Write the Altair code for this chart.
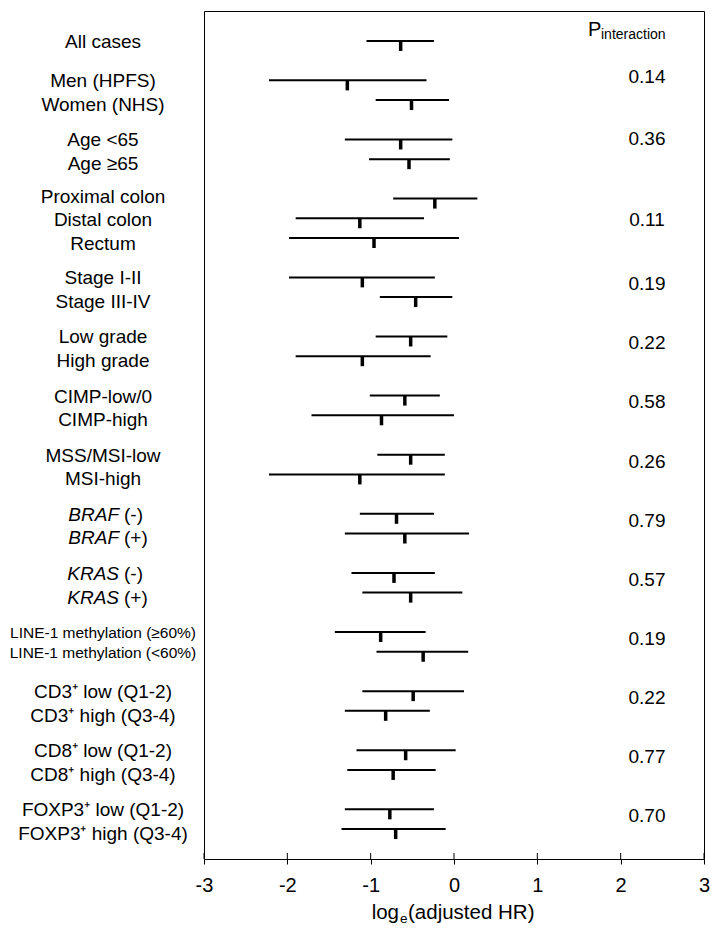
import altair as alt
import pandas as pd

FONT = "Liberation Sans"

# ---- data ----
group_sizes = [1, 2, 2, 3, 2, 2, 2, 2, 2, 2, 2, 2, 2, 2]
labels = [
    "All cases",
    "Men (HPFS)", "Women (NHS)",
    "Age <65", "Age \u226565",
    "Proximal colon", "Distal colon", "Rectum",
    "Stage I-II", "Stage III-IV",
    "Low grade", "High grade",
    "CIMP-low/0", "CIMP-high",
    "MSS/MSI-low", "MSI-high",
    "BRAF (-)", "BRAF (+)",
    "KRAS (-)", "KRAS (+)",
    "LINE-1 methylation (\u226560%)", "LINE-1 methylation (<60%)",
    "CD3\u207a low (Q1-2)", "CD3\u207a high (Q3-4)",
    "CD8\u207a low (Q1-2)", "CD8\u207a high (Q3-4)",
    "FOXP3\u207a low (Q1-2)", "FOXP3\u207a high (Q3-4)",
]
italic_genes = ["BRAF", "KRAS"]
estimate = [-0.64, -1.28, -0.51, -0.64, -0.54, -0.23, -1.13, -0.96, -1.10, -0.46,
            -0.52, -1.10, -0.59, -0.87, -0.52, -1.13, -0.69, -0.59, -0.72, -0.52,
            -0.88, -0.37, -0.49, -0.82, -0.58, -0.73, -0.77, -0.70]
lower = [-1.05, -2.22, -0.94, -1.31, -1.02, -0.73, -1.90, -1.98, -1.98, -0.89,
         -0.94, -1.90, -1.01, -1.71, -0.92, -2.22, -1.13, -1.31, -1.23, -1.10,
         -1.43, -0.93, -1.10, -1.31, -1.17, -1.28, -1.31, -1.35]
upper = [-0.24, -0.33, -0.06, -0.02, -0.05, 0.28, -0.36, 0.06, -0.23, -0.02,
         -0.08, -0.28, -0.17, 0.00, -0.11, -0.11, -0.24, 0.18, -0.23, 0.10,
         -0.34, 0.17, 0.12, -0.29, 0.02, -0.22, -0.24, -0.10]
p_values = ["", "0.14", "0.36", "0.11", "0.19", "0.22", "0.58", "0.26",
            "0.79", "0.57", "0.19", "0.22", "0.77", "0.70"]
x_ticks = [-3, -2, -1, 0, 1, 2, 3]

# ---- build tables ----
rows, lab_rows, fsizes, p_rows = [], [], [], []
slot = 0
i = 0
for g, n in enumerate(group_sizes):
    small = labels[i].startswith("LINE-1")
    spacing = 1.0 if small else 1.2
    shift = -0.1 if n == 3 else 0.05
    for k in range(n):
        rows.append(slot + k)
        lab_rows.append(slot + k * spacing + shift)
        fsizes.append(15.5 if small else 19)
    if n == 3:
        p_rows.append(slot + 1.1)
    elif g == 1:
        p_rows.append(slot - 0.15)
    elif g == 2:
        p_rows.append(slot)
    else:
        p_rows.append(slot + 0.35)
    i += n
    slot += n + 1

ital, rest = [], []
for lab in labels:
    first = lab.split(" ")[0]
    if first in italic_genes:
        ital.append(first)
        rest.append(lab[len(first) + 1:])
    else:
        ital.append("")
        rest.append(lab)

df = pd.DataFrame({
    "label": labels, "ital": ital, "rest": rest, "row": rows, "lab_row": lab_rows,
    "fs": fsizes, "est": estimate, "lo": lower, "hi": upper,
})
pdf = pd.DataFrame({"p": p_values, "prow": p_rows})
pdf = pdf[pdf["p"] != ""]
tdf = pd.DataFrame({"v": x_ticks})

xs = alt.Scale(domain=[-3, 3], nice=False, zero=False)
ys = alt.Scale(domain=[-1.52, 41.52], reverse=True, nice=False, zero=False)
xaxis = alt.Axis(values=x_ticks, ticks=True, tickSize=5, tickColor="black",
                 tickWidth=1, domain=False, grid=False, title=None,
                 labelFont=FONT, labelFontSize=20, labelColor="black",
                 labelPadding=11, labelFlush=False,
                 labelExpr="'' + datum.value")

base = alt.Chart(df)

whiskers = base.mark_rule(strokeWidth=2, color="black", opacity=1).encode(
    x=alt.X("lo:Q", scale=xs, axis=xaxis),
    x2="hi:Q",
    y=alt.Y("row:Q", scale=ys, axis=None),
)
points = base.mark_tick(orient="vertical", size=10, thickness=3.5, yOffset=5,
                        color="black", opacity=1).encode(
    x=alt.X("est:Q", scale=xs),
    y=alt.Y("row:Q", scale=ys),
)
plain_labels = base.transform_filter("datum.ital == ''").mark_text(
    align="center", baseline="middle", font=FONT, color="black"
).encode(
    x=alt.value(-101),
    y=alt.Y("lab_row:Q", scale=ys),
    text="rest:N",
    size=alt.Size("fs:Q", scale=None),
)
ital_labels = base.transform_filter("datum.ital != ''").mark_text(
    align="right", baseline="middle", font=FONT, fontStyle="italic", fontSize=19,
    color="black"
).encode(
    x=alt.value(-85),
    y=alt.Y("lab_row:Q", scale=ys),
    text="ital:N",
)
rest_labels = base.transform_filter("datum.ital != ''").mark_text(
    align="left", baseline="middle", font=FONT, fontSize=19, color="black"
).encode(
    x=alt.value(-80),
    y=alt.Y("lab_row:Q", scale=ys),
    text="rest:N",
)
pvals = alt.Chart(pdf).mark_text(
    align="center", baseline="middle", font=FONT, fontSize=19, color="black"
).encode(
    x=alt.value(443),
    y=alt.Y("prow:Q", scale=ys),
    text="p:N",
)
inner_ticks = alt.Chart(tdf).mark_rule(color="black", strokeWidth=1).encode(
    x=alt.X("v:Q", scale=xs),
    y=alt.value(842),
    y2=alt.value(848),
)


def txt(s, x, y, size, align="left", baseline="alphabetic"):
    return alt.Chart(pd.DataFrame({"t": [s]})).mark_text(
        align=align, baseline=baseline, font=FONT, fontSize=size, color="black"
    ).encode(text="t:N", x=alt.value(x), y=alt.value(y))


header = txt("P", 384, 25, 20) + txt("interaction", 397, 28, 14)
xtitle = (txt("log", 195, 908, 20.5, align="right")
          + txt("e", 196, 912, 13.5)
          + txt("(adjusted HR)", 204, 908, 20.5))

chart = alt.layer(
    whiskers, points, plain_labels, ital_labels, rest_labels, pvals,
    inner_ticks, header, xtitle
).properties(
    width=500, height=848,
    autosize=alt.AutoSizeParams(type="none"),
    padding={"left": 196, "top": 3, "right": 6, "bottom": 69},
).configure_view(stroke="black", strokeWidth=1)

chart.save("out.html", embed_options={"renderer": "svg", "actions": False})
